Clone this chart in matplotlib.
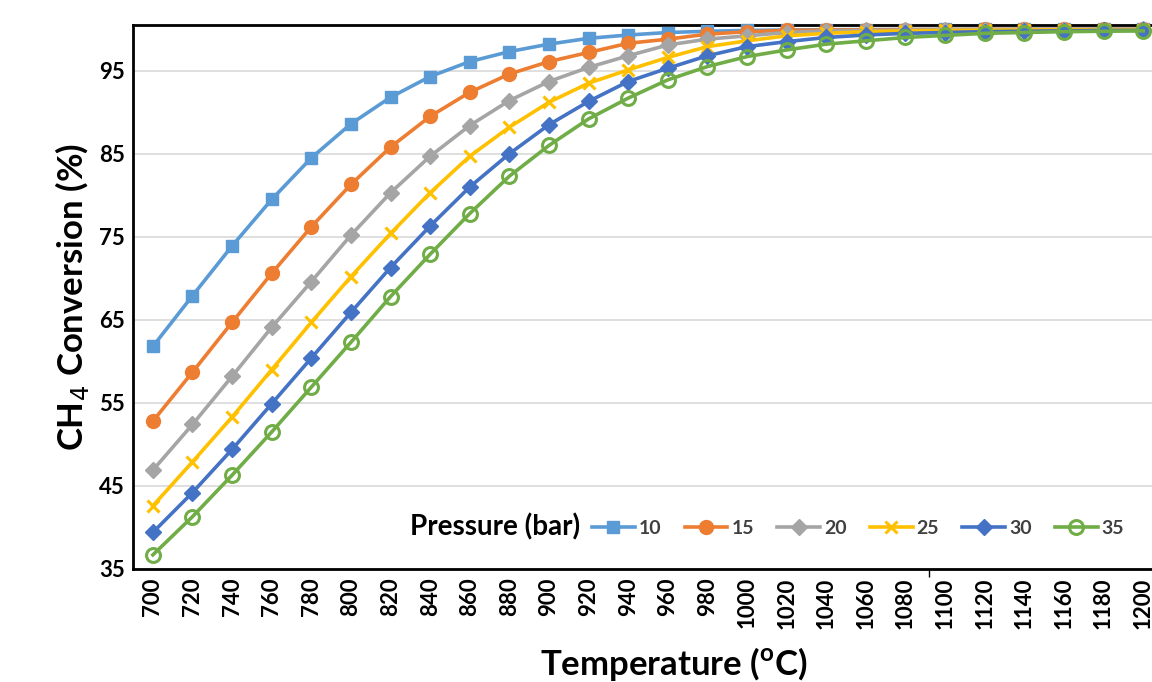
"""
CH4 conversion vs temperature at several pressures
"""
import numpy as np
import matplotlib.pyplot as plt
from matplotlib import rc

rc("font", family=["Lato", "DejaVu Sans"])

# Temperatures (categories)
temps = list(range(700, 1201, 20))

# Conversion (%) per pressure
p10 = [61.8, 67.9, 73.9, 79.5, 84.5, 88.6, 91.8, 94.3, 96.1, 97.3, 98.2, 98.9, 99.3,
       99.6, 99.75, 99.85, 99.9, 99.93, 99.95, 99.96, 99.97, 99.97, 99.98, 99.98, 99.98, 99.98]
p15 = [52.8, 58.7, 64.7, 70.6, 76.2, 81.3, 85.8, 89.5, 92.4, 94.6, 96.1, 97.2, 98.3,
       98.8, 99.4, 99.7, 99.85, 99.9, 99.93, 99.95, 99.96, 99.97, 99.97, 99.98, 99.98, 99.98]
p20 = [46.9, 52.4, 58.2, 64.1, 69.6, 75.2, 80.3, 84.7, 88.4, 91.4, 93.7, 95.4, 96.8,
       98.1, 98.8, 99.2, 99.6, 99.8, 99.85, 99.9, 99.92, 99.94, 99.95, 99.96, 99.96, 99.97]
p25 = [42.6, 47.9, 53.3, 59.0, 64.7, 70.2, 75.4, 80.3, 84.7, 88.2, 91.2, 93.5, 95.1,
       96.6, 97.9, 98.6, 99.2, 99.5, 99.7, 99.8, 99.85, 99.88, 99.9, 99.92, 99.93, 99.94]
p30 = [39.4, 44.2, 49.4, 54.9, 60.4, 65.9, 71.3, 76.3, 81.0, 85.0, 88.5, 91.3, 93.7,
       95.3, 96.8, 97.9, 98.5, 99.0, 99.3, 99.5, 99.6, 99.7, 99.75, 99.8, 99.85, 99.85]
p35 = [36.7, 41.3, 46.3, 51.5, 56.9, 62.3, 67.8, 72.9, 77.8, 82.3, 86.0, 89.2, 91.7,
       93.9, 95.5, 96.7, 97.5, 98.2, 98.6, 99.0, 99.25, 99.5, 99.6, 99.7, 99.75, 99.8]

labels = ['10', '15', '20', '25', '30', '35']
series = [p10, p15, p20, p25, p30, p35]
colors = ['#5B9BD5', '#ED7D31', '#A5A5A5', '#FFC000', '#4472C4', '#70AD47']
markers = ['s', 'o', 'D', 'x', 'D', 'o']
msizes = [8, 10, 8, 9, 8, 10]

fig = plt.figure(figsize=(11.52, 6.82), dpi=100)
ax = fig.add_axes([0.1155, 0.1657, 0.894, 0.7976])

x = np.arange(len(temps))
handles = []
for k, s in enumerate(series):
    face = 'none' if k == 5 else colors[k]
    mew = 2.2 if k in (3, 5) else 1
    h, = ax.plot(x, s, color=colors[k], lw=2.6, marker=markers[k], ms=msizes[k],
                 mfc=face, mec=colors[k], mew=mew, label=labels[k], zorder=3 + k,
                 clip_on=False)
    handles.append(h)

ax.set_xlim(-0.5, len(temps) - 0.5)
ax.set_ylim(35, 100.5)
ax.set_yticks(range(35, 100, 10))
ax.yaxis.grid(True, color='#D9D9D9', lw=1.2)
ax.set_axisbelow(True)

ax.set_xticks(x)
ax.set_xticklabels([str(t) for t in temps], rotation=90, fontsize=16, fontweight='bold')
for lab in ax.get_yticklabels():
    lab.set_fontsize(16)
    lab.set_fontweight('bold')
ax.tick_params(axis='both', length=0, pad=6)
ax.set_xticks([19.6], minor=True)
ax.tick_params(axis='x', which='minor', length=6, width=1, direction='out')

for side in ['left', 'top', 'bottom', 'right']:
    ax.spines[side].set_linewidth(2)
    ax.spines[side].set_color('black')

ax.set_ylabel('CH$_4$ Conversion (%)', fontsize=25, fontweight='bold', labelpad=6)
fig.text(674 / 1152, 1 - 664 / 682, 'Temperature ($^{\\mathregular{o}}$C)', fontsize=25,
         fontweight='bold', ha='center', va='center')

# legend, title on the left
fig.text(580 / 1152, 1 - 527 / 682, 'Pressure (bar)', fontsize=20, fontweight='bold',
         ha='right', va='center')
leg = fig.legend(handles=handles, loc='center left', ncol=6,
                 bbox_to_anchor=(592 / 1152, 1 - 528 / 682), frameon=False,
                 fontsize=14, handlelength=2.2, handletextpad=0.2, columnspacing=1.2,
                 borderaxespad=0, borderpad=0)
for t in leg.get_texts():
    t.set_color('#404040')
    t.set_fontweight('bold')

fig.savefig('out.png', dpi=100)
